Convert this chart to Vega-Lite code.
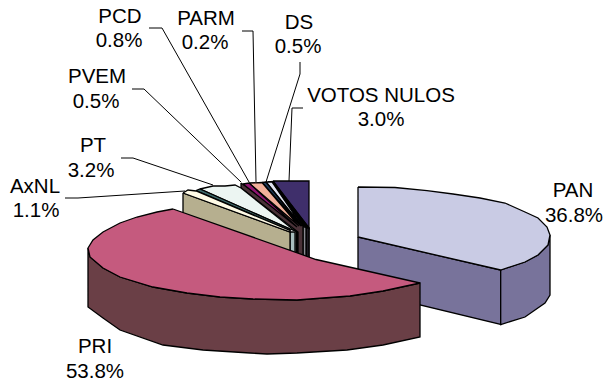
{"$schema":"https://vega.github.io/schema/vega-lite/v6.json","width":605,"height":385,"padding":0,"autosize":{"type":"none"},"background":"#ffffff","config":{"view":{"stroke":null}},
"datasets":{
"shapes":[
{"part":"PAN wall inner","seq":1,"x":358,"y":237},{"part":"PAN wall inner","seq":2,"x":500.7,"y":270},{"part":"PAN wall inner","seq":3,"x":500.7,"y":324.5},{"part":"PAN wall inner","seq":4,"x":358,"y":290},{"part":"PAN wall inner","seq":5,"x":358,"y":237},
{"part":"PAN wall outer","seq":1,"x":500.7,"y":270},{"part":"PAN wall outer","seq":2,"x":525,"y":262},{"part":"PAN wall outer","seq":3,"x":538,"y":255},{"part":"PAN wall outer","seq":4,"x":548,"y":245},{"part":"PAN wall outer","seq":5,"x":550,"y":235},{"part":"PAN wall outer","seq":6,"x":550,"y":295},{"part":"PAN wall outer","seq":7,"x":545,"y":303},{"part":"PAN wall outer","seq":8,"x":525,"y":317},{"part":"PAN wall outer","seq":9,"x":500.7,"y":324.5},{"part":"PAN wall outer","seq":10,"x":500.7,"y":270},
{"part":"PAN top","seq":1,"x":358,"y":187},{"part":"PAN top","seq":2,"x":395,"y":187.5},{"part":"PAN top","seq":3,"x":427,"y":190.7},{"part":"PAN top","seq":4,"x":453,"y":194},{"part":"PAN top","seq":5,"x":480,"y":198},{"part":"PAN top","seq":6,"x":505,"y":203},{"part":"PAN top","seq":7,"x":525,"y":212},{"part":"PAN top","seq":8,"x":538,"y":218},{"part":"PAN top","seq":9,"x":547,"y":227},{"part":"PAN top","seq":10,"x":550,"y":235},{"part":"PAN top","seq":11,"x":548,"y":245},{"part":"PAN top","seq":12,"x":538,"y":255},{"part":"PAN top","seq":13,"x":525,"y":262},{"part":"PAN top","seq":14,"x":500.7,"y":270},{"part":"PAN top","seq":15,"x":358,"y":237},{"part":"PAN top","seq":16,"x":358,"y":187},
{"part":"VOTOS top","seq":1,"x":273,"y":181},{"part":"VOTOS top","seq":2,"x":309,"y":181},{"part":"VOTOS top","seq":3,"x":309,"y":228},{"part":"VOTOS top","seq":4,"x":273,"y":181},
{"part":"edge band","seq":1,"x":268,"y":182},{"part":"edge band","seq":2,"x":273,"y":181.5},{"part":"edge band","seq":3,"x":309,"y":228},{"part":"edge band","seq":4,"x":309,"y":262},{"part":"edge band","seq":5,"x":296,"y":262},{"part":"edge band","seq":6,"x":296,"y":232},{"part":"edge band","seq":7,"x":268,"y":182},
{"part":"VOTOS wall","seq":1,"x":306,"y":228},{"part":"VOTOS wall","seq":2,"x":309,"y":228},{"part":"VOTOS wall","seq":3,"x":309,"y":262},{"part":"VOTOS wall","seq":4,"x":306,"y":262},{"part":"VOTOS wall","seq":5,"x":306,"y":228},
{"part":"grey wall","seq":1,"x":303,"y":226},{"part":"grey wall","seq":2,"x":306,"y":228},{"part":"grey wall","seq":3,"x":306,"y":262},{"part":"grey wall","seq":4,"x":303,"y":262},{"part":"grey wall","seq":5,"x":303,"y":226},
{"part":"plum wall","seq":1,"x":241,"y":183},{"part":"plum wall","seq":2,"x":303,"y":226},{"part":"plum wall","seq":3,"x":303,"y":262},{"part":"plum wall","seq":4,"x":298,"y":262},{"part":"plum wall","seq":5,"x":298,"y":232},{"part":"plum wall","seq":6,"x":241,"y":188},{"part":"plum wall","seq":7,"x":241,"y":183},
{"part":"lavender top","seq":1,"x":266,"y":182},{"part":"lavender top","seq":2,"x":272,"y":182},{"part":"lavender top","seq":3,"x":302,"y":226},{"part":"lavender top","seq":4,"x":266,"y":182},
{"part":"blue top","seq":1,"x":262,"y":182.5},{"part":"blue top","seq":2,"x":266,"y":182},{"part":"blue top","seq":3,"x":301,"y":226},{"part":"blue top","seq":4,"x":262,"y":182.5},
{"part":"salmon top","seq":1,"x":249,"y":183},{"part":"salmon top","seq":2,"x":262,"y":182.5},{"part":"salmon top","seq":3,"x":299,"y":226},{"part":"salmon top","seq":4,"x":249,"y":183},
{"part":"magenta top","seq":1,"x":243,"y":184},{"part":"magenta top","seq":2,"x":249,"y":183},{"part":"magenta top","seq":3,"x":297,"y":227},{"part":"magenta top","seq":4,"x":243,"y":184},
{"part":"teal wall","seq":1,"x":290,"y":232},{"part":"teal wall","seq":2,"x":295,"y":232},{"part":"teal wall","seq":3,"x":295,"y":262},{"part":"teal wall","seq":4,"x":290,"y":262},{"part":"teal wall","seq":5,"x":290,"y":232},
{"part":"PT top","seq":1,"x":200,"y":189},{"part":"PT top","seq":2,"x":213,"y":186},{"part":"PT top","seq":3,"x":225,"y":186},{"part":"PT top","seq":4,"x":235,"y":185},{"part":"PT top","seq":5,"x":241,"y":188},{"part":"PT top","seq":6,"x":295,"y":231},{"part":"PT top","seq":7,"x":290,"y":229},{"part":"PT top","seq":8,"x":200,"y":189},
{"part":"dark sliver","seq":1,"x":196,"y":190.5},{"part":"dark sliver","seq":2,"x":200,"y":189},{"part":"dark sliver","seq":3,"x":290,"y":229},{"part":"dark sliver","seq":4,"x":290,"y":230.5},{"part":"dark sliver","seq":5,"x":196,"y":190.5},
{"part":"AxNL wall","seq":1,"x":183,"y":193},{"part":"AxNL wall","seq":2,"x":290,"y":232},{"part":"AxNL wall","seq":3,"x":290,"y":262},{"part":"AxNL wall","seq":4,"x":183,"y":230},{"part":"AxNL wall","seq":5,"x":183,"y":193},
{"part":"AxNL top","seq":1,"x":183,"y":193},{"part":"AxNL top","seq":2,"x":188,"y":190},{"part":"AxNL top","seq":3,"x":196,"y":191},{"part":"AxNL top","seq":4,"x":290,"y":230.5},{"part":"AxNL top","seq":5,"x":290,"y":232},{"part":"AxNL top","seq":6,"x":183,"y":193},
{"part":"PRI wall","seq":1,"x":88,"y":248},{"part":"PRI wall","seq":2,"x":90,"y":257},{"part":"PRI wall","seq":3,"x":103,"y":268},{"part":"PRI wall","seq":4,"x":120,"y":277},{"part":"PRI wall","seq":5,"x":153,"y":287},{"part":"PRI wall","seq":6,"x":187,"y":293},{"part":"PRI wall","seq":7,"x":220,"y":297},{"part":"PRI wall","seq":8,"x":253,"y":299},{"part":"PRI wall","seq":9,"x":297,"y":300},{"part":"PRI wall","seq":10,"x":323,"y":298},{"part":"PRI wall","seq":11,"x":350,"y":296},{"part":"PRI wall","seq":12,"x":383,"y":291},{"part":"PRI wall","seq":13,"x":420,"y":283},{"part":"PRI wall","seq":14,"x":420,"y":337},{"part":"PRI wall","seq":15,"x":383,"y":345},{"part":"PRI wall","seq":16,"x":347,"y":350},{"part":"PRI wall","seq":17,"x":297,"y":353},{"part":"PRI wall","seq":18,"x":267,"y":354},{"part":"PRI wall","seq":19,"x":250,"y":353},{"part":"PRI wall","seq":20,"x":203,"y":350},{"part":"PRI wall","seq":21,"x":163,"y":345},{"part":"PRI wall","seq":22,"x":120,"y":330},{"part":"PRI wall","seq":23,"x":103,"y":318},{"part":"PRI wall","seq":24,"x":88,"y":307},{"part":"PRI wall","seq":25,"x":88,"y":248},
{"part":"PRI top","seq":1,"x":173,"y":209},{"part":"PRI top","seq":2,"x":316,"y":259.5},{"part":"PRI top","seq":3,"x":420,"y":283},{"part":"PRI top","seq":4,"x":383,"y":291},{"part":"PRI top","seq":5,"x":350,"y":296},{"part":"PRI top","seq":6,"x":323,"y":298},{"part":"PRI top","seq":7,"x":297,"y":300},{"part":"PRI top","seq":8,"x":253,"y":299},{"part":"PRI top","seq":9,"x":220,"y":297},{"part":"PRI top","seq":10,"x":187,"y":293},{"part":"PRI top","seq":11,"x":153,"y":287},{"part":"PRI top","seq":12,"x":120,"y":277},{"part":"PRI top","seq":13,"x":103,"y":268},{"part":"PRI top","seq":14,"x":90,"y":257},{"part":"PRI top","seq":15,"x":88,"y":248},{"part":"PRI top","seq":16,"x":93,"y":240},{"part":"PRI top","seq":17,"x":103,"y":232},{"part":"PRI top","seq":18,"x":120,"y":223},{"part":"PRI top","seq":19,"x":137,"y":217},{"part":"PRI top","seq":20,"x":157,"y":212},{"part":"PRI top","seq":21,"x":173,"y":209}
],
"leaders":[
{"party":"PCD","seq":1,"x":149,"y":28},{"party":"PCD","seq":2,"x":162,"y":28},{"party":"PCD","seq":3,"x":249,"y":182},
{"party":"PVEM","seq":1,"x":132,"y":89},{"party":"PVEM","seq":2,"x":144,"y":89},{"party":"PVEM","seq":3,"x":241,"y":182},
{"party":"PT","seq":1,"x":121,"y":158},{"party":"PT","seq":2,"x":133,"y":158},{"party":"PT","seq":3,"x":213,"y":185},
{"party":"AxNL","seq":1,"x":65,"y":198},{"party":"AxNL","seq":2,"x":78,"y":198},{"party":"AxNL","seq":3,"x":185,"y":191},
{"party":"PARM","seq":1,"x":242,"y":31},{"party":"PARM","seq":2,"x":253,"y":31},{"party":"PARM","seq":3,"x":256,"y":182},
{"party":"DS","seq":1,"x":300,"y":62},{"party":"DS","seq":2,"x":300,"y":74},{"party":"DS","seq":3,"x":266,"y":182},
{"party":"VOTOS NULOS","seq":1,"x":303,"y":108},{"party":"VOTOS NULOS","seq":2,"x":292,"y":108},{"party":"VOTOS NULOS","seq":3,"x":289,"y":181}
],
"labels":[
{"text":"PCD","x":120,"y":23},{"text":"0.8%","x":119,"y":47},
{"text":"PARM","x":206,"y":25},{"text":"0.2%","x":205,"y":49},
{"text":"DS","x":299,"y":29},{"text":"0.5%","x":298,"y":53},
{"text":"VOTOS NULOS","x":381,"y":102},{"text":"3.0%","x":381,"y":126},
{"text":"PT","x":93,"y":152},{"text":"3.2%","x":91,"y":177},
{"text":"PVEM","x":97,"y":83},{"text":"0.5%","x":96,"y":108},
{"text":"AxNL","x":35,"y":193},{"text":"1.1%","x":36,"y":217},
{"text":"PAN","x":573,"y":197},{"text":"36.8%","x":574,"y":222},
{"text":"PRI","x":95,"y":353},{"text":"53.8%","x":95,"y":378}
]},
"layer":[
{"data":{"name":"shapes"},"mark":{"type":"line","stroke":"#000000","strokeWidth":1.3,"strokeJoin":"miter"},
"encoding":{"x":{"field":"x","type":"quantitative","scale":{"domain":[0,605],"nice":false,"zero":false},"axis":null},"y":{"field":"y","type":"quantitative","scale":{"domain":[385,0],"nice":false,"zero":false},"axis":null},"order":{"field":"seq","type":"quantitative"},"detail":{"field":"part"},
"fill":{"field":"part","type":"nominal","legend":null,"scale":{"domain":["PAN wall inner","PAN wall outer","PAN top","VOTOS top","edge band","VOTOS wall","grey wall","plum wall","lavender top","blue top","salmon top","magenta top","teal wall","PT top","dark sliver","AxNL wall","AxNL top","PRI wall","PRI top"],"range":["#78739B","#78739B","#C9CBE4","#3F2F6B","#000000","#1F1B24","#8A8A92","#4A3238","#E0E3F0","#1E3A5A","#F2B09A","#8E1470","#A9BEBF","#ECF5F2","#3F6A6A","#B6AF8F","#FFFBE6","#6A3F46","#C55A7E"]}}}},
{"data":{"name":"leaders"},"mark":{"type":"line","stroke":"#000000","strokeWidth":1},
"encoding":{"x":{"field":"x","type":"quantitative"},"y":{"field":"y","type":"quantitative"},"order":{"field":"seq","type":"quantitative"},"detail":{"field":"party"}}},
{"data":{"name":"labels"},"mark":{"type":"text","font":"Liberation Sans","fontSize":20.5,"align":"center","baseline":"alphabetic","color":"#000000"},
"encoding":{"x":{"field":"x","type":"quantitative"},"y":{"field":"y","type":"quantitative"},"text":{"field":"text"}}}
]}
